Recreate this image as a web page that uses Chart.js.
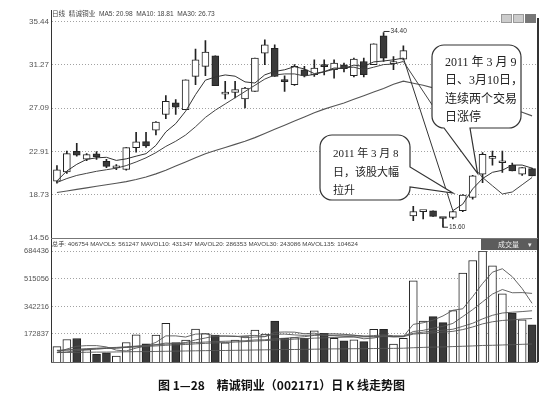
<!DOCTYPE html>
<html>
<head>
<meta charset="utf-8">
<script src="https://cdn.jsdelivr.net/npm/chart.js@4.4.0/dist/chart.umd.min.js"></script>
<style>
html,body{margin:0;padding:0;background:#fff;}
#wrap{position:relative;width:557px;height:401px;overflow:hidden;background:#fff;font-family:"Liberation Sans","Noto Sans CJK SC",sans-serif;}
canvas{position:absolute;left:0;top:0;}
.t{position:absolute;white-space:nowrap;color:#444;}
.ln{position:absolute;background:#333;}
.note{position:absolute;white-space:nowrap;color:#222;font-family:"Liberation Serif","Noto Sans CJK SC",serif;}
</style>
</head>
<body>
<div id="wrap">
  <canvas id="price" width="557" height="401"></canvas>
  <canvas id="volume" width="557" height="401"></canvas>

  <div class="ln" style="left:51px;top:10px;width:1px;height:352px;"></div>
  <div class="ln" style="left:537px;top:18px;width:2px;height:344px;"></div>
  <div class="ln" style="left:51px;top:238px;width:487px;height:1px;background:#777;"></div>
  <div class="ln" style="left:51px;top:362px;width:487px;height:1px;background:#666;"></div>

  <div class="t" style="left:52px;top:9px;font-size:6.6px;line-height:9px;">日线&nbsp;&nbsp;精诚铜业&nbsp;&nbsp;MA5: 20.98&nbsp;&nbsp;MA10: 18.81&nbsp;&nbsp;MA30: 26.73</div>
  <div class="t" style="left:501px;top:9px;">
    <span style="display:inline-block;width:9px;height:7px;background:#ccc;border:1px solid #999;"></span><span style="display:inline-block;width:9px;height:7px;background:#ccc;border:1px solid #999;margin-left:1px;"></span><span style="display:inline-block;width:9px;height:7px;background:#777;border:1px solid #777;margin-left:1px;"></span>
  </div>
  <div class="t" style="left:52px;top:240px;font-size:6.2px;line-height:8px;">总手: 406754 MAVOL5: 561247 MAVOL10: 431347 MAVOL20: 286353 MAVOL30: 243086 MAVOL135: 104624</div>
  <div class="t" style="left:481px;top:239px;width:56px;height:11px;background:#5c5c5c;color:#eee;font-size:7px;line-height:11px;">
    <span style="position:absolute;left:17px;">成交量</span><span style="position:absolute;left:47px;">▾</span>
  </div>

  <div class="note" style="left:445px;top:53px;font-size:12px;line-height:18.3px;">2011 年 3 月 9<br>日、3月10日，<br>连续两个交易<br>日涨停</div>
  <div class="note" style="left:333px;top:144px;font-size:11px;line-height:18.5px;">2011 年 3 月 8<br>日，该股大幅<br>拉升</div>

  <div class="t" style="left:158px;top:377px;font-size:12px;line-height:16px;font-weight:bold;color:#111;font-family:'Noto Sans CJK SC',sans-serif;">图 1—28　精诚铜业（002171）日 K 线走势图</div>
</div>

<script>
// 精诚铜业 日K线 2011-01-04 ~ 2011-03-18
const dates = ['01-04','01-05','01-06','01-07','01-10','01-11','01-12','01-13','01-14','01-17',
  '01-18','01-19','01-20','01-21','01-24','01-25','01-26','01-27','01-28','01-31',
  '02-01','02-09','02-10','02-11','02-14','02-15','02-16','02-17','02-18','02-21',
  '02-22','02-23','02-24','02-25','02-28','03-01','03-02','03-03','03-04','03-07',
  '03-08','03-09','03-10','03-11','03-14','03-15','03-16','03-17','03-18'];

const opens = [20.05,20.95,22.93,22.16,22.68,21.97,21.33,21.17,23.28,23.86,
  24.97,26.48,27.60,26.96,30.16,31.12,32.15,28.45,28.62,27.99,
  28.72,32.40,32.88,29.72,29.36,30.80,30.32,31.16,30.80,31.28,
  30.22,31.60,31.28,34.07,31.40,31.83,16.68,17.10,17.19,16.47,
  16.55,17.19,18.47,20.71,22.24,21.82,21.58,20.71,21.26];
const highs = [21.55,22.95,23.69,22.70,22.90,22.15,21.65,23.30,24.75,24.75,
  25.80,28.30,27.92,29.84,32.79,33.61,32.15,29.68,29.68,29.10,
  31.92,33.68,33.20,30.22,31.30,31.12,31.76,31.76,31.76,31.44,
  31.92,31.92,33.30,34.40,32.08,33.11,17.61,17.14,17.19,16.49,
  17.15,18.75,20.60,22.80,22.95,22.95,21.80,21.36,21.30];
const lows = [19.85,20.80,22.47,22.03,22.15,21.36,21.15,21.10,22.85,23.30,
  24.50,26.09,26.48,26.96,29.36,30.22,29.26,27.99,28.08,27.12,
  28.72,31.28,30.16,28.72,29.30,30.10,30.16,30.30,30.00,30.60,
  30.10,30.10,31.28,31.60,30.80,31.76,16.23,16.39,16.65,15.60,
  16.40,17.10,18.30,19.90,21.60,20.90,21.03,20.60,20.55];
const closes = [21.15,22.70,22.56,22.62,22.38,21.48,21.36,23.28,23.84,23.45,
  25.76,27.76,27.18,29.84,31.76,32.50,29.26,28.52,28.88,29.04,
  31.92,33.20,30.16,29.66,31.12,30.22,30.96,31.10,31.44,30.90,
  31.83,30.32,33.30,31.92,31.44,32.65,17.12,17.12,16.65,16.44,
  17.10,18.70,20.55,22.64,22.28,21.86,21.03,21.36,20.55];

const ma5 = [20.07,21.03,21.67,22.15,22.30,22.35,22.05,22.20,22.46,22.70,
  23.50,24.80,25.60,26.80,28.40,29.80,30.10,30.30,30.18,29.63,
  29.52,30.31,30.64,30.80,31.10,30.88,30.43,30.62,30.97,30.93,
  31.25,31.12,31.56,31.65,31.76,31.93,null,null,null,null,
  17.20,17.83,19.30,20.30,20.90,21.10,21.60,21.60,21.30];
const ma10 = [19.92,20.30,20.60,20.80,21.00,21.15,21.30,21.55,21.90,22.30,
  22.80,23.40,23.90,24.50,25.30,26.20,26.90,27.50,28.10,28.70,
  29.30,29.90,30.30,30.40,30.40,30.20,30.35,30.60,30.85,31.00,
  31.05,30.80,31.05,31.30,31.35,31.60,null,null,null,null,
  null,null,21.50,20.40,19.60,18.81,19.00,19.70,20.40];
const ma30 = [18.96,19.10,19.25,19.40,19.55,19.70,19.85,20.00,20.20,20.45,
  20.75,21.10,21.50,21.90,22.30,22.70,23.00,23.30,23.60,23.90,
  24.25,24.65,25.05,25.45,25.85,26.25,26.65,27.00,27.30,27.60,
  27.95,28.30,28.65,29.00,29.40,29.70,29.50,29.30,29.05,28.85,
  28.60,28.40,28.15,27.90,27.60,27.30,27.00,26.70,26.35];

const volumes = [95000,139000,145000,77000,48000,56000,37000,120000,168000,112000,
  166000,238000,120000,135000,203000,176000,166000,118000,135000,156000,
  197000,172000,253000,147000,151000,146000,192000,177000,146000,130000,
  136000,126000,202000,202000,111000,146000,500000,253000,280000,243000,
  317000,548000,626000,684000,593000,420000,301000,260000,229000];
const mavol5 = [60000,80000,97000,101000,101000,93000,73000,68000,86000,99000,
  121000,161000,161000,154000,172000,174000,160000,160000,160000,150000,
  154000,156000,183000,185000,184000,174000,178000,163000,162000,158000,
  156000,143000,148000,159000,155000,157000,232000,242000,258000,284000,
  319000,328000,403000,484000,554000,575000,526000,453000,362000];
const mavol10 = [58000,62000,70000,75000,80000,84000,86000,90000,96000,100000,
  107000,117000,114000,120000,136000,148000,160000,160000,157000,161000,
  164000,158000,171000,172000,167000,164000,167000,173000,174000,171000,
  165000,160000,155000,161000,157000,157000,188000,195000,209000,220000,
  238000,280000,323000,371000,419000,447000,427000,428000,423000];
const mavol20 = [70000,74000,78000,82000,85000,88000,90000,94000,98000,102000,
  106000,110000,113000,116000,120000,123000,126000,128000,130000,131000,
  136000,137000,143000,146000,151000,156000,164000,166000,165000,166000,
  165000,159000,163000,167000,162000,161000,177000,184000,191000,196000,
  202000,220000,239000,266000,288000,302000,307000,311000,316000];
const mavol30 = [72000,74000,77000,79000,81000,84000,86000,90000,93000,96000,
  99000,103000,106000,108000,112000,115000,118000,120000,123000,126000,
  129000,132000,135000,138000,141000,144000,147000,149000,151000,153000,
  154000,155000,156000,157000,156000,156000,172000,176000,180000,184000,
  189000,200000,216000,235000,248000,256000,260000,265000,268000];
const mavol135 = [58000,59000,59000,60000,61000,61000,62000,63000,64000,64000,
  65000,66000,67000,68000,69000,70000,71000,71000,72000,73000,
  74000,75000,76000,77000,77000,78000,79000,80000,81000,81000,
  82000,82000,83000,84000,84000,85000,88000,90000,92000,93000,
  95000,97000,99000,102000,103000,105000,107000,109000,111000];

const priceTicks = [14.56, 18.73, 22.91, 27.09, 31.27, 35.44];
const volTicks = [172837, 342216, 515056, 684436];

const UP = '#ffffff';
const DOWN = '#3a3a3a';
const EDGE = '#222222';
const candleFill = opens.map((o, i) => closes[i] >= o ? UP : DOWN);

// 对话框（标注）
function roundBubble(ctx, L, T, R, B, r, tail) {
  ctx.beginPath();
  ctx.moveTo(L + r, T);
  ctx.lineTo(R - r, T);
  ctx.arcTo(R, T, R, T + r, r);
  if (tail.side === 'right') {
    ctx.lineTo(R, tail.a);
    ctx.lineTo(tail.tip.x, tail.tip.y);
    ctx.lineTo(R, tail.b);
  }
  ctx.lineTo(R, B - r);
  ctx.arcTo(R, B, R - r, B, r);
  if (tail.side === 'bottom') {
    ctx.lineTo(tail.b, B);
    ctx.lineTo(tail.tip.x, tail.tip.y);
    ctx.lineTo(tail.a, B);
  }
  ctx.lineTo(L + r, B);
  ctx.arcTo(L, B, L, B - r, r);
  ctx.lineTo(L, T + r);
  ctx.arcTo(L, T, L + r, T, r);
  ctx.closePath();
  ctx.fillStyle = '#fff';
  ctx.fill();
  ctx.lineWidth = 1.2;
  ctx.strokeStyle = '#333';
  ctx.stroke();
}

const calloutPlugin = {
  id: 'callouts',
  afterDatasetsDraw(chart) {
    const ctx = chart.ctx;
    const xs = chart.scales.x, ys = chart.scales.y;
    ctx.save();
    const tipUp = { x: xs.getPixelForValue(42.5), y: ys.getPixelForValue(20.8) };
    roundBubble(ctx, 432, 45, 521, 128, 12, { side: 'bottom', a: 444, b: 470, tip: tipUp });
    const tipLow = { x: xs.getPixelForValue(40), y: ys.getPixelForValue(18.9) };
    roundBubble(ctx, 320, 135, 410, 200, 12, { side: 'right', a: 167, b: 187, tip: tipLow });
    ctx.restore();
  }
};

// 最高价 / 最低价标记
const extremePlugin = {
  id: 'extremes',
  afterDatasetsDraw(chart) {
    const ctx = chart.ctx;
    const xs = chart.scales.x, ys = chart.scales.y;
    const hi = Math.max(...highs), hiIdx = highs.indexOf(hi);
    const lo = Math.min(...lows), loIdx = lows.indexOf(lo);
    ctx.save();
    ctx.strokeStyle = '#333';
    ctx.fillStyle = '#333';
    ctx.lineWidth = 1;
    ctx.font = '6.5px "Liberation Sans"';
    ctx.textBaseline = 'middle';
    let x = xs.getPixelForValue(hiIdx), y = ys.getPixelForValue(hi) - 1;
    ctx.beginPath(); ctx.moveTo(x, y); ctx.lineTo(x + 6, y); ctx.stroke();
    ctx.fillText(hi.toFixed(2), x + 7, y);
    x = xs.getPixelForValue(loIdx); y = ys.getPixelForValue(lo);
    ctx.beginPath(); ctx.moveTo(x, y - 3); ctx.lineTo(x, y); ctx.lineTo(x + 5, y); ctx.stroke();
    ctx.fillText(lo.toFixed(2), x + 6, y);
    ctx.restore();
  }
};

function lineSet(label, data, color, width) {
  return { type: 'line', label: label, data: data, borderColor: color, borderWidth: width,
    pointRadius: 0, spanGaps: true, tension: 0, fill: false, order: 0 };
}

const gridOpts = { color: '#8a8a8a', lineWidth: 0.8, drawTicks: false };
const borderOpts = { display: false, dash: [1, 2] };

new Chart(document.getElementById('price'), {
  type: 'bar',
  data: {
    labels: dates,
    datasets: [
      lineSet('MA5', ma5, '#333', 1),
      lineSet('MA10', ma10, '#444', 1),
      lineSet('MA30', ma30, '#555', 1.1),
      {
        label: 'K线实体',
        data: opens.map((o, i) => [o, closes[i]]),
        backgroundColor: candleFill,
        borderColor: EDGE,
        borderWidth: 1,
        borderSkipped: false,
        barThickness: 7,
        minBarLength: 2,
        grouped: false,
        order: 1
      },
      {
        label: '影线',
        data: lows.map((l, i) => [l, highs[i]]),
        backgroundColor: EDGE,
        borderWidth: 0,
        barThickness: 1,
        grouped: false,
        order: 2
      }
    ]
  },
  options: {
    responsive: false,
    animation: false,
    layout: { padding: { left: 0, right: 20, top: 21.7, bottom: 401 - 238 } },
    plugins: { legend: { display: false }, tooltip: { enabled: false } },
    scales: {
      x: { display: false, offset: true },
      y: {
        min: 14.56, max: 35.44,
        afterBuildTicks: s => { s.ticks = priceTicks.map(v => ({ value: v })); },
        afterFit: s => { s.width = 52; },
        ticks: { color: '#555', padding: 3, font: { size: 8, family: 'Liberation Sans' },
          callback: v => Number(v).toFixed(2) },
        grid: gridOpts,
        border: borderOpts
      }
    }
  },
  plugins: [calloutPlugin, extremePlugin]
});

new Chart(document.getElementById('volume'), {
  type: 'bar',
  data: {
    labels: dates,
    datasets: [
      lineSet('MAVOL5', mavol5, '#555', 0.9),
      lineSet('MAVOL10', mavol10, '#555', 0.9),
      lineSet('MAVOL20', mavol20, '#555', 0.9),
      lineSet('MAVOL30', mavol30, '#555', 0.9),
      lineSet('MAVOL135', mavol135, '#555', 0.9),
      {
        label: '成交量',
        data: volumes,
        backgroundColor: candleFill,
        borderColor: EDGE,
        borderWidth: 1,
        barThickness: 8,
        order: 1
      }
    ]
  },
  options: {
    responsive: false,
    animation: false,
    layout: { padding: { left: 0, right: 20, top: 251, bottom: 401 - 362 } },
    plugins: { legend: { display: false }, tooltip: { enabled: false } },
    scales: {
      x: { display: false, offset: true },
      y: {
        min: 0, max: 684436,
        afterBuildTicks: s => { s.ticks = volTicks.map(v => ({ value: v })); },
        afterFit: s => { s.width = 52; },
        ticks: { color: '#555', padding: 3, font: { size: 7.5, family: 'Liberation Sans' },
          callback: v => String(Math.round(v)) },
        grid: gridOpts,
        border: borderOpts
      }
    }
  }
});
</script>
</body>
</html>
